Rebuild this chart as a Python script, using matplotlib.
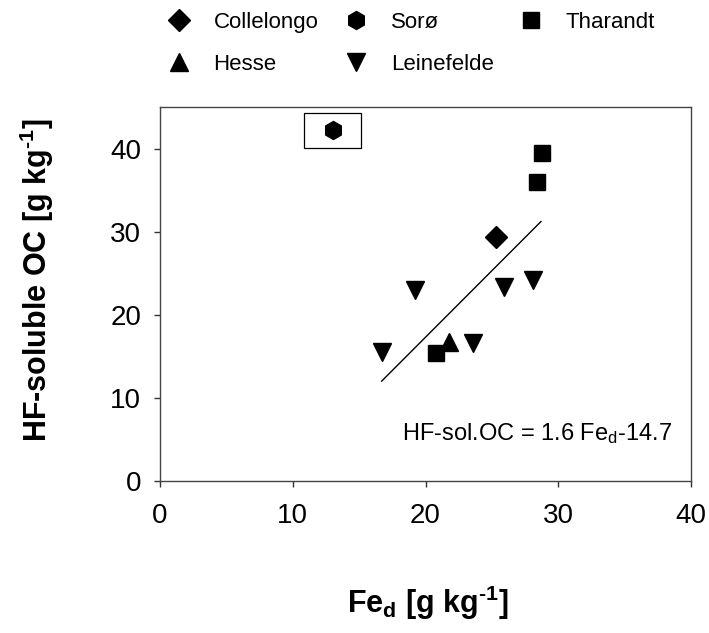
import matplotlib
matplotlib.use("Agg")
import matplotlib.pyplot as plt
from matplotlib.patches import Rectangle
import numpy as np

plt.rcParams['font.family'] = ['Liberation Sans', 'DejaVu Sans']
plt.rcParams['mathtext.fontset'] = 'custom'
plt.rcParams['mathtext.rm'] = 'Liberation Sans'
plt.rcParams['mathtext.bf'] = 'Liberation Sans:bold'
plt.rcParams['mathtext.it'] = 'Liberation Sans:italic'

# ---- data (Fe_d, HF-soluble OC) ----
sites = ["Collelongo", "Sorø", "Tharandt", "Hesse", "Leinefelde"]
markers = {"Collelongo": "D", "Sorø": "h", "Tharandt": "s", "Hesse": "^", "Leinefelde": "v"}
msizes = {"Collelongo": 11, "Sorø": 13, "Tharandt": 12, "Hesse": 13, "Leinefelde": 13}

collelongo_fe = [25.3]
collelongo_oc = [29.4]
soro_fe = [13.0]
soro_oc = [42.2]
tharandt_fe = [28.8, 28.4, 20.8]
tharandt_oc = [39.5, 36.0, 15.4]
hesse_fe = [21.8]
hesse_oc = [16.7]
leinefelde_fe = [28.1, 25.9, 19.2, 16.7, 23.6]
leinefelde_oc = [24.2, 23.4, 23.0, 15.5, 16.6]

data = {
    "Collelongo": (collelongo_fe, collelongo_oc),
    "Sorø": (soro_fe, soro_oc),
    "Tharandt": (tharandt_fe, tharandt_oc),
    "Hesse": (hesse_fe, hesse_oc),
    "Leinefelde": (leinefelde_fe, leinefelde_oc),
}

# regression: HF-sol.OC = 1.6 Fe_d - 14.7
slope = 1.6
intercept = -14.7
fit_x_range = [16.7, 28.7]

x_ticks = [0, 10, 20, 30, 40]
y_ticks = [0, 10, 20, 30, 40]

fig = plt.figure(figsize=(7.09, 6.33), dpi=100)
ax = fig.add_axes([160/709, 1-481/633, 531/709, 374/633])

handles = {}
for s in sites:
    fx, fy = data[s]
    h, = ax.plot(fx, fy, linestyle='none', marker=markers[s], markersize=msizes[s],
                 color='black', markeredgecolor='black', zorder=3)
    handles[s] = h

fx = np.array(fit_x_range)
ax.plot(fx, slope*fx + intercept, color='black', lw=1.0, zorder=2)

# box around the Sorø outlier
bw, bh = 4.3, 4.2
ax.add_patch(Rectangle((soro_fe[0]-bw/2, soro_oc[0]-bh/2), bw, bh, fill=False,
                       edgecolor='black', lw=0.9, zorder=2))

ax.set_xlim(0, 40)
ax.set_ylim(0, 45)
ax.set_xticks(x_ticks)
ax.set_yticks(y_ticks)
ax.tick_params(axis='both', direction='out', length=4.5, width=1, color='#333333',
               labelsize=20)
ax.tick_params(axis='x', pad=11)
ax.tick_params(axis='y', pad=9)
for sp in ax.spines.values():
    sp.set_color('#444444')
    sp.set_linewidth(1.0)

ax.text(0.964, 0.11, "HF-sol.OC = 1.6 Fe$_\\mathrm{d}$-14.7", transform=ax.transAxes,
        ha='right', va='baseline', fontsize=17)

ax.set_xlabel("Fe$_\\mathbf{d}$ [g kg$^\\mathbf{\u2010 1}$]", fontsize=22, fontweight='bold')
ax.set_ylabel("HF-soluble OC [g kg$^\\mathbf{\u2010 1}$]", fontsize=22, fontweight='bold')
ax.xaxis.set_label_coords(0.505, -0.275)
ax.yaxis.set_label_coords(-0.195, 0.537)

order = ["Collelongo", "Hesse", "Sorø", "Leinefelde", "Tharandt"]
leg = fig.legend([handles[s] for s in order], order, ncol=3, loc='upper left',
                 bbox_to_anchor=(168/709, 1-12/633), frameon=False, fontsize=16,
                 handlelength=1.0, handletextpad=1.05, columnspacing=1.2,
                 labelspacing=0.95, borderpad=0, borderaxespad=0)

fig.savefig("out.png", dpi=100)
